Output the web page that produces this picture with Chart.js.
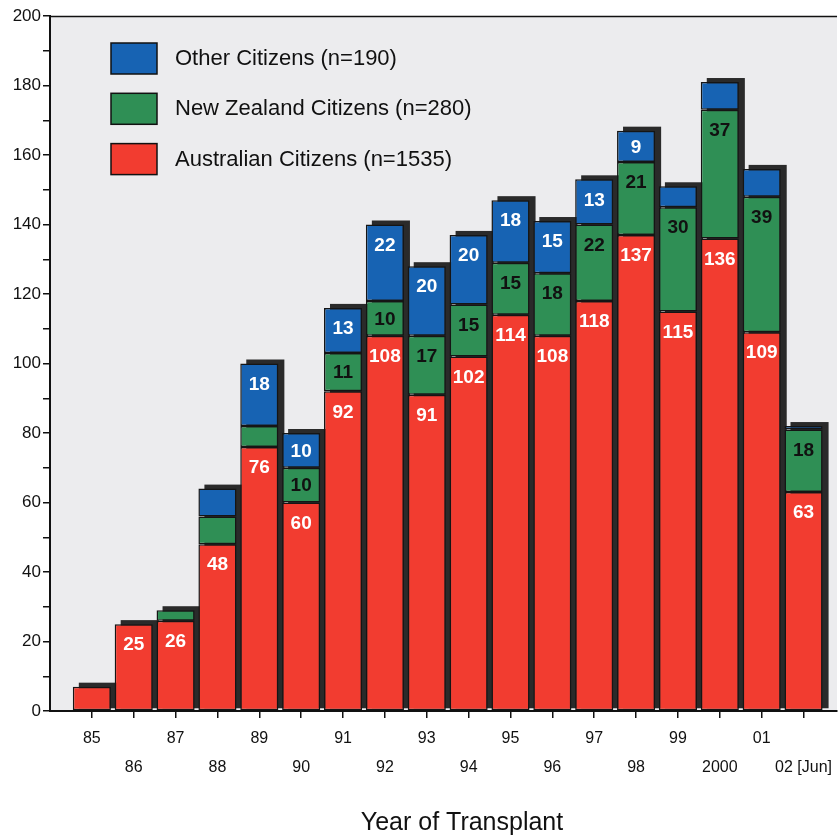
<!DOCTYPE html>
<html><head><meta charset="utf-8">
<script src="https://cdn.jsdelivr.net/npm/chart.js@4/dist/chart.umd.min.js"></script>
<style>html,body{margin:0;padding:0;background:#fff}canvas{display:block}</style>
</head><body>
<canvas id="c" width="838" height="838"></canvas>
<script>
const years = ['85','86','87','88','89','90','91','92','93','94','95','96','97','98','99','2000','01','02 [Jun]'];
const australian = [7,25,26,48,76,60,92,108,91,102,114,108,118,137,115,136,109,63];
const newZealand = [0,0,3,8,6,10,11,10,17,15,15,18,22,21,30,37,39,18];
const other = [0,0,0,8,18,10,13,22,20,20,18,15,13,9,6,8,8,1];
const seriesNames = ['Australian Citizens (n=1535)','New Zealand Citizens (n=280)','Other Citizens (n=190)'];
const seriesColors = ['#f23c30','#2f8f55','#1763b3'];
const labelColors = ['#ffffff','#111111','#ffffff'];
const xTitle = 'Year of Transplant';
const FONT = '"Liberation Sans", Arial, Helvetica, sans-serif';

const toPts = arr => arr.map((v,i)=>({x:i,y:v}));

const bgPlugin = {
  id:'bg',
  beforeDraw(chart){
    const {ctx, chartArea:a} = chart;
    ctx.save();
    ctx.fillStyle = '#ececee';
    ctx.fillRect(a.left, a.top, a.right-a.left, a.bottom-a.top);
    ctx.restore();
  }
};

const shadowPlugin = {
  id:'shadow',
  beforeDatasetsDraw(chart){
    const ctx = chart.ctx;
    ctx.save();
    ctx.fillStyle = '#2a2a2a';
    for(let i=0;i<years.length;i++){
      let top = Infinity, base=null, x=null, w=null;
      chart.data.datasets.forEach((ds,d)=>{
        const el = chart.getDatasetMeta(d).data[i];
        if(!el) return;
        if(ds.data[i].y>0 && el.y<top) top = el.y;
        if(d===0){ base = el.base; x = el.x; w = el.width; }
      });
      ctx.fillRect(x - w/2 + 6, top - 4, w, base - top + 2);
    }
    ctx.restore();
  }
};

const valuePlugin = {
  id:'values',
  afterDatasetsDraw(chart){
    const ctx = chart.ctx;
    ctx.save();
    ctx.font = 'bold 19px ' + FONT;
    ctx.textAlign = 'center';
    ctx.textBaseline = 'middle';
    chart.data.datasets.forEach((ds,d)=>{
      const meta = chart.getDatasetMeta(d);
      meta.data.forEach((el,i)=>{
        const v = ds.data[i].y;
        if(v < 9) return;
        const h = el.base - el.y;
        ctx.fillStyle = labelColors[d];
        ctx.fillText(String(v), el.x, el.y + Math.min(20, h/2) + 1);
      });
    });
    ctx.restore();
  }
};

const decoPlugin = {
  id:'deco',
  afterDraw(chart){
    const {ctx, chartArea:a} = chart;
    ctx.save();
    ctx.strokeStyle = '#111';
    ctx.lineWidth = 1.5;
    ctx.beginPath();
    ctx.moveTo(a.left, a.top + 0.5);
    ctx.lineTo(a.right, a.top + 0.5);
    ctx.stroke();
    const order = [2,1,0];
    ctx.font = '22px ' + FONT;
    ctx.textBaseline = 'middle';
    ctx.textAlign = 'left';
    order.forEach((d,k)=>{
      const y = 43 + k*50.3;
      ctx.fillStyle = seriesColors[d];
      ctx.fillRect(111, y, 46, 31);
      ctx.strokeStyle = '#111';
      ctx.lineWidth = 1.5;
      ctx.strokeRect(111, y, 46, 31);
      ctx.fillStyle = '#111';
      ctx.fillText(seriesNames[d], 175, y + 16);
    });
    ctx.font = '25px ' + FONT;
    ctx.textAlign = 'center';
    ctx.textBaseline = 'alphabetic';
    ctx.fillStyle = '#111';
    ctx.fillText(xTitle, 462, 830);
    ctx.restore();
  }
};

const dsCommon = {
  borderColor:'#151515', borderWidth:1.5, borderSkipped:false,
  barPercentage:0.91, categoryPercentage:1.0
};

new Chart(document.getElementById('c'), {
  type:'bar',
  data:{
    datasets:[
      Object.assign({label:seriesNames[0], data:toPts(australian), backgroundColor:seriesColors[0]}, dsCommon),
      Object.assign({label:seriesNames[1], data:toPts(newZealand), backgroundColor:seriesColors[1]}, dsCommon),
      Object.assign({label:seriesNames[2], data:toPts(other), backgroundColor:seriesColors[2]}, dsCommon)
    ]
  },
  options:{
    responsive:false,
    animation:false,
    layout:{padding:{top:16,left:0,right:0,bottom:0}},
    plugins:{legend:{display:false}, tooltip:{enabled:false}},
    scales:{
      x:{
        type:'linear', min:-1, max:17.8, stacked:true, offset:false,
        afterBuildTicks(s){ s.ticks = years.map((_,i)=>({value:i})); },
        afterFit(s){ s.height = 127; },
        ticks:{
          autoSkip:false, maxRotation:0, padding:6, color:'#111',
          font:{family:FONT, size:16, lineHeight:1.8},
          callback:(v)=>{ const i = Math.round(v); return i%2===0 ? [years[i], ''] : ['', years[i]]; }
        },
        grid:{drawOnChartArea:false, offset:false, color:'#111', tickLength:7, lineWidth:1.5},
        border:{color:'#111', width:2}
      },
      y:{
        stacked:true, min:0, max:200,
        afterFit(s){ s.width = 50; },
        ticks:{
          stepSize:10, autoSkip:false, padding:2, color:'#111',
          font:{family:FONT, size:17},
          callback:(v)=> v%20===0 ? String(v) : ''
        },
        grid:{drawOnChartArea:false, color:'#111', tickLength:7, lineWidth:1.5},
        border:{color:'#111', width:2}
      }
    }
  },
  plugins:[bgPlugin, shadowPlugin, valuePlugin, decoPlugin]
});
</script>
</body></html>
